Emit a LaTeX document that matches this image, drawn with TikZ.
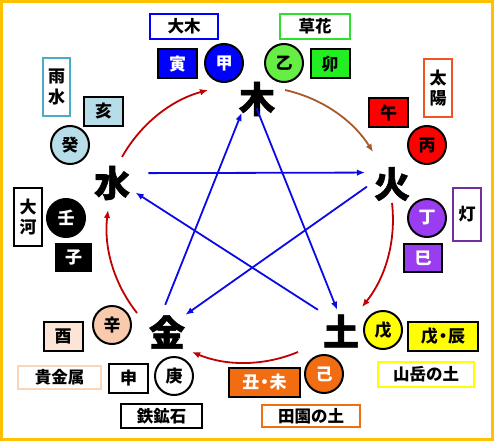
\documentclass[tikz,border=0pt]{standalone}
\usepackage{fontspec}
\newfontfamily\jp{Noto Sans CJK JP}
\newfontfamily\jpheavy{Noto Sans CJK JP}[BoldFeatures={FakeBold=1.5}]
\usetikzlibrary{arrows.meta,calc}
\definecolor{gold}{HTML}{FFC000}
\definecolor{starblue}{HTML}{0A0AE6}
\definecolor{woodblue}{HTML}{0000FF}
\definecolor{grassgreen}{HTML}{2EE02E}
\definecolor{brightgreen}{HTML}{22EE22}
\definecolor{lightgreen}{HTML}{66EE44}
\definecolor{rainteal}{HTML}{4BACC6}
\definecolor{waterlight}{HTML}{B7DEE8}
\definecolor{sunorange}{HTML}{EE5522}
\definecolor{firered}{HTML}{FF0000}
\definecolor{lamppurple}{HTML}{7030A0}
\definecolor{firepurple}{HTML}{9A3DF0}
\definecolor{earthyellow}{HTML}{FFFF00}
\definecolor{earthorange}{HTML}{F26C12}
\definecolor{metalpeach}{HTML}{F9CBAC}
\definecolor{metallight}{HTML}{FCE4D6}
\definecolor{metalborder}{HTML}{FBD5B5}
\definecolor{arcred}{HTML}{C00000}
\definecolor{arcbrown}{HTML}{A65A2A}
\newcommand{\middot}{\kern-0.2em・\kern-0.2em}
\begin{document}
\begin{tikzpicture}[x=1pt,y=-1pt,
  elem/.style={circle, inner sep=0pt, minimum size=50pt,
    font=\jpheavy\bfseries\fontsize{36}{36}\selectfont},
  stembox/.style={rectangle, draw=black, line width=2pt, inner sep=0pt,
    minimum width=39pt, minimum height=29pt,
    font=\jp\bfseries\fontsize{17}{17}\selectfont},
  stemcirc/.style={circle, draw=black, line width=2pt, inner sep=0pt,
    minimum size=38pt, font=\jp\bfseries\fontsize{17}{17}\selectfont},
  lbl/.style={rectangle, fill=white, line width=2pt, inner sep=0pt,
    font=\jp\bfseries\fontsize{16.5}{17}\selectfont},
  vlbl/.style={rectangle, fill=white, line width=2pt, inner sep=0pt,
    align=center, font=\jp\bfseries\fontsize{17}{20.5}\selectfont},
  starline/.style={draw=starblue, line width=1.8pt,
    -{Latex[length=8pt,width=6.5pt]}},
  cyclearc/.style={line width=1.8pt, -{Latex[length=8pt,width=6.5pt]},
    bend left=22.5, looseness=0.9}
]
\useasboundingbox (0,0) rectangle (494,441);
\fill[white] (0,0) rectangle (494,441);
\draw[gold, line width=3pt] (1.5,1.5) rectangle (492.5,439.5);

% five elements
\node[elem] (mu)   at (257,99)  {木};
\node[elem] (huo)  at (392,184) {火};
\node[elem] (tu)   at (341,331) {土};
\node[elem] (jin)  at (167,332) {金};
\node[elem] (shui) at (112,183) {水};

% wood group
\node[lbl, draw=woodblue, minimum width=68pt, minimum height=25pt] (damu) at (184,26.5) {大木};
\node[lbl, draw=grassgreen, minimum width=70pt, minimum height=25pt] (caohua) at (315,26.5) {草花};
\node[stembox, fill=woodblue, text=white] (yin) at (177.5,64) {寅};
\node[stemcirc, fill=woodblue, text=white] (jia) at (224,63) {甲};
\node[stemcirc, fill=lightgreen] (yi) at (284,63) {乙};
\node[stembox, fill=brightgreen] (mao) at (330,64) {卯};

% water group
\node[vlbl, draw=rainteal, minimum width=27pt, minimum height=58pt] (yushui) at (56.5,87) {雨\\水};
\node[stembox, fill=waterlight] (hai) at (103.5,111.5) {亥};
\node[stemcirc, fill=waterlight] (gui) at (70,145) {癸};
\node[vlbl, draw=black, minimum width=28pt, minimum height=58pt] (dahe) at (28,217) {大\\河};
\node[stemcirc, fill=black, text=white] (ren) at (66,218) {壬};
\node[stembox, fill=black, text=white, minimum width=35pt, minimum height=27pt] (zi) at (73.5,257.5) {子};

% fire group
\node[vlbl, draw=sunorange, minimum width=28pt, minimum height=58pt] (taiyang) at (438,88) {太\\陽};
\node[stembox, fill=firered] (wu) at (388.5,112.5) {午};
\node[stemcirc, fill=firered] (bing) at (427,145) {丙};
\node[stemcirc, fill=firepurple, text=white] (ding) at (427,218) {丁};
\node[vlbl, draw=lamppurple, minimum width=28pt, minimum height=53pt] (deng) at (467,214.5) {灯};
\node[stembox, fill=firepurple, text=white, minimum width=38pt, minimum height=28pt] (si) at (423,258) {巳};

% earth group
\node[stemcirc, fill=earthyellow] (wuu) at (383,330) {戊};
\node[stembox, fill=earthyellow, minimum width=70pt] (wuchen) at (443,336.5) {戊\middot 辰};
\node[lbl, draw=earthyellow, minimum width=96pt, minimum height=25pt] (shanyue) at (426,374.5) {山岳の土};
\node[stemcirc, fill=earthorange, text=white] (ji) at (324,374) {己};
\node[stembox, fill=earthorange, text=white, minimum width=71pt] (chouwei) at (264.5,382.5) {丑\middot 未};
\node[lbl, draw=earthorange, minimum width=98pt, minimum height=22pt] (tianyuan) at (311,416) {田園の土};

% metal group
\node[stemcirc, fill=metalpeach] (xin) at (112,325) {辛};
\node[stembox, fill=metallight] (you) at (63,336.5) {酉};
\node[lbl, draw=metalborder, minimum width=83pt, minimum height=23pt] (guijin) at (59.5,377.5) {貴金属};
\node[stembox, fill=white] (shen) at (128.5,378.5) {申};
\node[stemcirc, fill=white] (geng) at (174,376) {庚};
\node[lbl, draw=black, minimum width=81pt, minimum height=24pt] (tiekuang) at (161.5,416) {鉄鉱石};

% controlling cycle (star)
\draw[starline, shorten <=13.1pt, shorten >=4.6pt] (shui.23.6) -- (huo.153.8);
\draw[starline, shorten <=2.3pt, shorten >=-4.9pt] (jin.96.7) -- (mu.227.8);
\draw[starline, shorten <=-16.4pt, shorten >=-3.7pt] (mu.283.9) -- (tu.102.5);
\draw[starline, shorten <=6.3pt, shorten >=0.3pt] (tu.135.2) -- (shui.338.5);
\draw[starline] (huo.186.8) -- (jin.43.4);

% generating cycle (arcs)
\draw[cyclearc, draw=arcred] ($(shui)+(10,-26)$) to ($(mu)+(-49,-9)$);
\draw[cyclearc, draw=arcbrown] ($(mu)+(28,-9)$) to ($(huo)+(-19,-32)$);
\draw[cyclearc, draw=arcred] ($(huo)+(0,19)$) to ($(tu)+(21,-24)$);
\draw[cyclearc, draw=arcred] ($(tu)+(-43,21)$) to ($(jin)+(25,20)$);
\draw[cyclearc, draw=arcred] ($(jin)+(-30,-19)$) to ($(shui)+(-4,27)$);
\end{tikzpicture}
\end{document}
